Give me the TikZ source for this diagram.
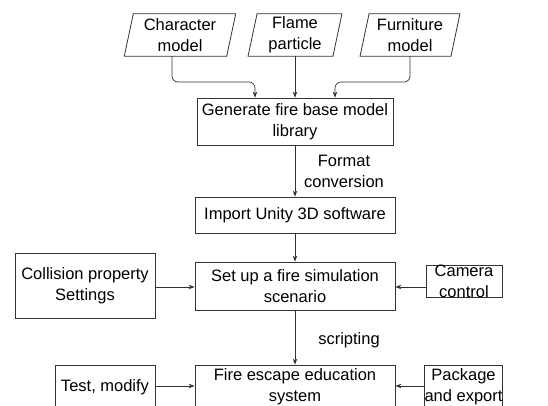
\documentclass[tikz,border=0pt]{standalone}
\usepackage{fontspec}
\setmainfont{Liberation Sans}
\usetikzlibrary{arrows.meta}
\begin{document}
\begin{tikzpicture}[x=1pt,y=-1pt,
  font=\fontsize{16.5}{21}\selectfont,
  box/.style={draw=black!80, line width=0.8pt, rectangle, align=center, inner sep=0pt},
  para/.style={align=center, inner sep=0pt, minimum height=42pt},
  arr/.style={draw=black!80, line width=0.7pt, -{Stealth[length=6pt,width=4.5pt]}},
  lbl/.style={align=center, inner sep=0pt}]
\useasboundingbox (0,0) rectangle (548,405);
\clip (0,0) rectangle (548,405);
% inputs
\node[para, minimum width=102pt] (ch) at (180,35) {Character\\model};
\node[para, minimum width=84.5pt] (fl) at (295,35) {Flame\\particle};
\node[para, minimum width=90.5pt] (fu) at (410,35) {Furniture\\model};
\foreach \n in {ch,fl,fu}{
  \draw[draw=black!80, line width=0.8pt] ([xshift=4.5pt]\n.north west) -- ([xshift=4.5pt]\n.north east)
     -- ([xshift=-4.5pt]\n.south east) -- ([xshift=-4.5pt]\n.south west) -- cycle;
}
% main chain
\node[box, minimum width=196pt, minimum height=47pt] (gen) at (295,121.5) {Generate fire base model\\library};
\node[box, minimum width=200pt, minimum height=36pt] (imp) at (295,215) {Import Unity 3D software};
\node[box, minimum width=200pt, minimum height=48pt] (set) at (295,286) {Set up a fire simulation\\scenario};
\node[box, minimum width=200pt, minimum height=44pt] (fes) at (295,387) {Fire escape education\\system};
% side boxes
\node[box, minimum width=140pt, minimum height=65pt] (col) at (85,285.5) {Collision property\\Settings};
\node[box, minimum width=76pt, minimum height=31pt] (cam) at (464,281.5) {Camera\\control};
\node[box, minimum width=100pt, minimum height=44pt] (tst) at (105,387) {Test, modify};
\node[box, minimum width=77pt, minimum height=44pt] (pkg) at (463.5,387) {Package\\and export};
% connectors
\draw[arr, rounded corners=6pt] ([xshift=-8pt]ch.south) |- (255,82) -- ([xshift=-40pt]gen.north);
\draw[arr] (fl.south) -- (gen.north);
\draw[arr, rounded corners=6pt] (fu.south) |- (335,82) -- ([xshift=40pt]gen.north);
\draw[arr] (gen.south) -- (imp.north);
\draw[arr] (imp.south) -- (set.north);
\draw[arr] (set.south) -- (fes.north);
\draw[arr] (col.east |- 0,287) -- (set.west |- 0,287);
\draw[arr] (cam.west |- 0,287) -- (set.east |- 0,287);
\draw[arr] (tst.east |- 0,386) -- (fes.west |- 0,386);
\draw[arr] (pkg.west |- 0,386) -- (fes.east |- 0,386);
% labels
\node[lbl] (l1) at (344,171) {Format\\conversion};
\node[lbl] (l2) at (349,340) {scripting};
\end{tikzpicture}
\end{document}
